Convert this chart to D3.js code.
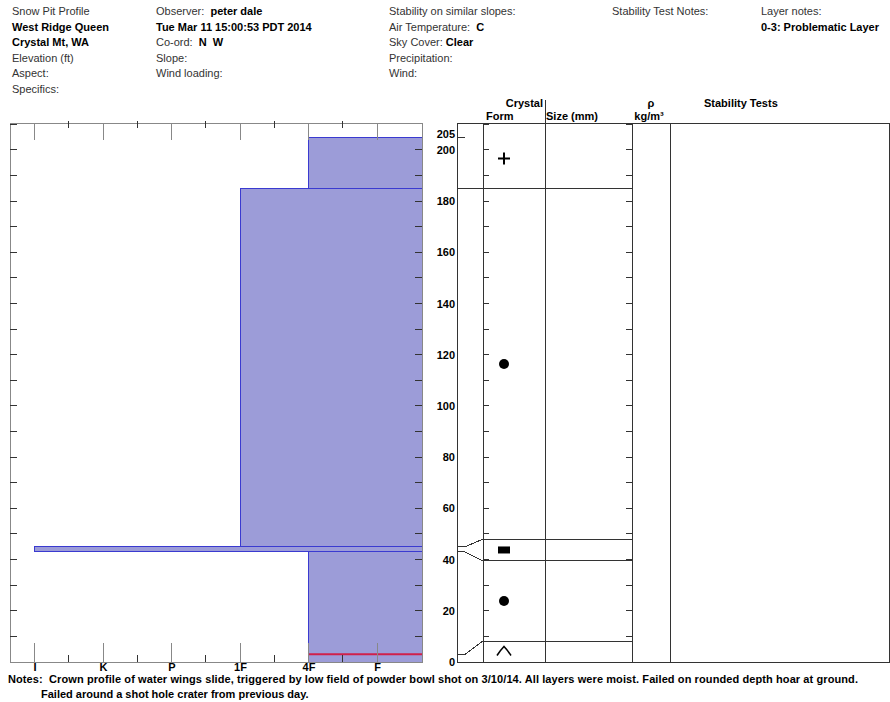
<!DOCTYPE html>
<html lang="en">
<head>
    <meta charset="UTF-8">
    <title>Snow Pit Profile</title>
    <script src="https://d3js.org/d3.v7.min.js"></script>
    <style>
        body { margin: 0; background: #fff; }
        svg { display: block; font-family: Arial, "Liberation Sans", sans-serif; }
        .hdr { font-size: 11px; fill: #333; }
        .hdr .b { font-weight: bold; fill: #000; }
        .lab { font-size: 11px; font-weight: bold; fill: #000; }
        .frame { stroke: #888; fill: none; shape-rendering: crispEdges; }
        .dark { stroke: #333; fill: none; shape-rendering: crispEdges; }
    </style>
</head>
<body>
    <svg width="890" height="702"></svg>
    <script>
        // header rows: [column x, [ [text, bold], ... ]]
        const headerCols = [
            [12, [[["Snow Pit Profile", 0]], [["West Ridge Queen", 1]], [["Crystal Mt, WA", 1]],
                  [["Elevation (ft)", 0]], [["Aspect:", 0]], [["Specifics:", 0]]]],
            [156, [[["Observer:  ", 0], ["peter dale", 1]], [["Tue Mar 11 15:00:53 PDT 2014", 1]],
                   [["Co-ord:  ", 0], ["N  W", 1]], [["Slope:", 0]], [["Wind loading:", 0]]]],
            [389, [[["Stability on similar slopes:", 0]], [["Air Temperature:  ", 0], ["C", 1]],
                   [["Sky Cover: ", 0], ["Clear", 1]], [["Precipitation:", 0]], [["Wind:", 0]]]],
            [612, [[["Stability Test Notes:", 0]]]],
            [761, [[["Layer notes:", 0]], [["0-3: Problematic Layer", 1]]]]
        ];

        // hand hardness axis
        const hardLabels = ["I", "K", "P", "1F", "4F", "F"];

        // layers (cm from ground)
        const layerBottom = [0, 3, 43, 45, 185];
        const layerTop    = [3, 43, 45, 185, 205];
        const layerHard   = ["4F", "4F", "I", "1F", "4F"];
        const layerForm   = ["DH", "RG", "IF", "RG", "PP"];
        // where each boundary is drawn in the crystal column (cm)
        const formBoundary = [8.2, 39.5, 48, 184.8];
        const formTop = 208.5;
        const problemDepth = 3;
        const snowDepth = 205;
        const depthLabels = [0, 20, 40, 60, 80, 100, 120, 140, 160, 180, 200];
        const notes = [
            "Notes:  Crown profile of water wings slide, triggered by low field of powder bowl shot on 3/10/14. All layers were moist. Failed on rounded depth hoar at ground.",
            "Failed around a shot hole crater from previous day."
        ];

        const svg = d3.select("svg");
        const chartL = 10, chartR = 422, topY = 123, botY = 662;
        const axL = 457, formL = 483, sizeL = 545, rhoL = 632, stabL = 670, panelR = 889;

        const y = d3.scaleLinear().domain([0, 210.5]).range([botY, topY]);
        const x = d3.scaleLinear().domain([0, 5]).range([34.5, 377]);
        const hx = h => x(hardLabels.indexOf(h));

        // header
        const hdr = svg.append("g").attr("class", "hdr");
        headerCols.forEach(([cx, rows]) => {
            rows.forEach((parts, i) => {
                const t = hdr.append("text").attr("x", cx).attr("y", 15 + i * 15.6).attr("xml:space", "preserve");
                parts.forEach(([s, b]) => t.append("tspan").attr("class", b ? "b" : null).text(s));
            });
        });

        // ---- hardness chart ----
        const g = svg.append("g");
        g.selectAll("rect.layer")
            .data(layerTop.map((t, i) => ({t, b: layerBottom[i], h: layerHard[i]})))
            .enter().append("rect")
            .attr("x", d => hx(d.h))
            .attr("y", d => y(d.t))
            .attr("width", d => chartR - hx(d.h))
            .attr("height", d => y(d.b) - y(d.t))
            .attr("fill", "#9c9cd8")
            .attr("stroke", "#3a3ad0")
            .attr("stroke-width", 1)
            .attr("shape-rendering", "crispEdges");

        const pl = layerTop.indexOf(problemDepth);
        g.append("line")
            .attr("x1", hx(layerHard[pl])).attr("x2", chartR)
            .attr("y1", y(problemDepth)).attr("y2", y(problemDepth))
            .attr("stroke", "#d0204a").attr("stroke-width", 2);

        // frame
        g.append("path").attr("class", "frame")
            .attr("d", `M${chartL},${topY}H${chartR}V${botY}H${chartL}Z`);

        // depth ticks on both sides, every 10 cm
        const tens = d3.range(10, 211, 10);
        g.selectAll("line.lt").data(tens).enter().append("line").attr("class", "dark")
            .attr("x1", chartL).attr("x2", chartL + 7).attr("y1", d => y(d)).attr("y2", d => y(d));
        g.selectAll("line.rt").data(tens.filter(d => d <= 200)).enter().append("line").attr("class", "dark")
            .attr("x1", chartR - 7).attr("x2", chartR).attr("y1", d => y(d)).attr("y2", d => y(d));

        // hardness ticks top and bottom
        const major = d3.range(0, 6), minor = d3.range(0.5, 5, 1);
        g.selectAll("line.tm").data(major).enter().append("line").attr("class", "frame")
            .attr("x1", d => x(d)).attr("x2", d => x(d)).attr("y1", topY).attr("y2", topY + 17);
        g.selectAll("line.tn").data(minor).enter().append("line").attr("class", "dark")
            .attr("x1", d => x(d)).attr("x2", d => x(d)).attr("y1", topY - 2).attr("y2", topY + 5);
        g.selectAll("line.bm").data(major).enter().append("line").attr("class", "frame")
            .attr("x1", d => x(d)).attr("x2", d => x(d)).attr("y1", botY - 19).attr("y2", botY);
        g.selectAll("line.bn").data(minor).enter().append("line").attr("class", "dark")
            .attr("x1", d => x(d)).attr("x2", d => x(d)).attr("y1", botY - 7).attr("y2", botY);

        const xAxis = d3.axisBottom(x).tickValues(major).tickFormat(i => hardLabels[i])
            .tickSize(0).tickPadding(1);
        g.append("g").attr("transform", `translate(0,${botY})`).call(xAxis)
            .call(a => a.select(".domain").remove())
            .selectAll("text").attr("class", "lab").attr("font-family", null).attr("font-size", "10px");

        // ---- right panel ----
        const p = svg.append("g");
        const yAxis = d3.axisLeft(y).tickValues(depthLabels).tickSize(0).tickPadding(2);
        p.append("g").attr("transform", `translate(${axL},0)`).call(yAxis)
            .call(a => a.select(".domain").remove())
            .selectAll("text").attr("class", "lab").attr("font-family", null).attr("font-size", "12px");
        p.append("text").attr("class", "lab").attr("x", axL - 2).attr("y", y(snowDepth) - 3)
            .attr("dy", "0.32em").attr("text-anchor", "end").attr("font-size", "12px").text(snowDepth);
        p.append("line").attr("class", "dark")
            .attr("x1", axL).attr("x2", axL + 8).attr("y1", y(snowDepth)).attr("y2", y(snowDepth));

        p.append("path").attr("class", "dark")
            .attr("d", `M${axL},${topY}H${panelR}V${botY}H${axL}Z`);
        [formL, rhoL, stabL].forEach(vx => p.append("line").attr("class", "dark")
            .attr("x1", vx).attr("x2", vx).attr("y1", topY).attr("y2", botY));
        p.append("line").attr("class", "dark")
            .attr("x1", sizeL).attr("x2", sizeL).attr("y1", 100).attr("y2", botY);

        p.selectAll("line.ft").data(tens).enter().append("line").attr("class", "dark")
            .attr("x1", formL).attr("x2", formL + 6).attr("y1", d => y(d)).attr("y2", d => y(d));
        p.selectAll("line.rt").data(tens).enter().append("line").attr("class", "dark")
            .attr("x1", rhoL - 6).attr("x2", rhoL).attr("y1", d => y(d)).attr("y2", d => y(d));

        // layer boundary connectors
        const bounds = layerTop.slice(0, -1);
        p.selectAll("path.conn").data(bounds).enter().append("path").attr("class", "dark")
            .attr("shape-rendering", "auto")
            .attr("d", (d, i) => `M${axL},${y(d)}H${axL + 8}L${formL},${y(formBoundary[i])}H${rhoL}`);

        // crystal form symbols
        const fb = [0].concat(formBoundary, [formTop]);
        layerForm.forEach((f, i) => {
            const cy = y((fb[i] + fb[i + 1]) / 2), cx = 504;
            if (f === "RG") p.append("circle").attr("cx", cx).attr("cy", cy).attr("r", 5).attr("fill", "#000");
            else if (f === "IF") p.append("rect").attr("x", cx - 6).attr("y", cy - 3.5).attr("width", 12).attr("height", 7).attr("fill", "#000");
            else if (f === "PP") p.append("path").attr("d", `M${cx - 6},${cy}H${cx + 6}M${cx},${cy - 6}V${cy + 6}`)
                .attr("stroke", "#000").attr("stroke-width", 2);
            else if (f === "DH") p.append("path").attr("d", `M${cx - 7},${cy + 4}Q${cx - 3},${cy - 2} ${cx},${cy - 5}Q${cx + 3},${cy - 2} ${cx + 7},${cy + 4}`)
                .attr("stroke", "#000").attr("stroke-width", 1.6).attr("fill", "none");
        });

        // column headings
        const heads = [
            [543, 107, "Crystal", "end"], [486, 120, "Form", "start"], [546, 120, "Size (mm)", "start"],
            [651, 107, "ρ", "middle"], [649, 120, "kg/m³", "middle"], [704, 107, "Stability Tests", "start"]
        ];
        heads.forEach(([hx2, hy, s, a]) => p.append("text").attr("class", "lab")
            .attr("x", hx2).attr("y", hy).attr("text-anchor", a).text(s));

        // notes
        svg.append("text").attr("class", "lab").attr("x", 8).attr("y", 683)
            .attr("xml:space", "preserve").attr("textLength", 850).attr("font-size", "10px").text(notes[0]);
        svg.append("text").attr("class", "lab").attr("x", 41).attr("y", 698)
            .attr("font-size", "10px").text(notes[1]);
    </script>
</body>
</html>
